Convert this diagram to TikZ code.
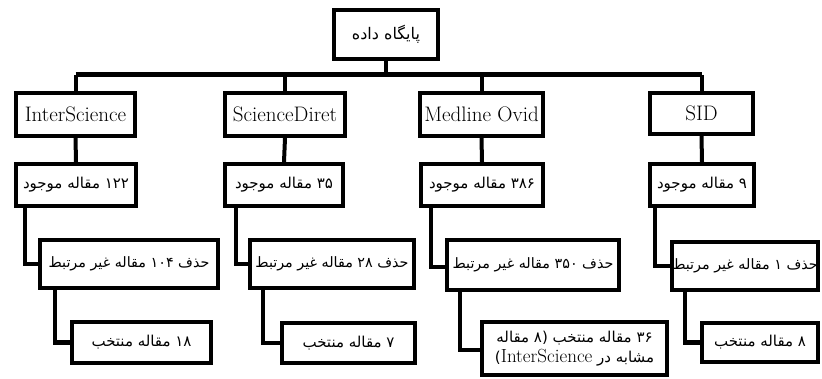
\documentclass[tikz,border=0pt]{standalone}
\usepackage{fontspec}
\TeXXeTstate=1
\newfontfamily\fa[Script=Arabic]{DejaVu Sans}
\newcommand{\fatxt}[1]{{\fa\fontsize{15}{17}\selectfont\beginR #1\endR}}
\newcommand{\fatxtb}[1]{{\fa\fontsize{14.3}{17}\selectfont\beginR #1\endR}}
\newcommand{\latxt}[1]{{\fontsize{21}{24}\selectfont #1}}
\tikzset{
  box/.style={draw=black, line width=4pt, inner sep=0pt, anchor=center, align=center},
  conn/.style={draw=black, line width=4pt},
  barline/.style={draw=black, line width=5pt}
}
\begin{document}
\begin{tikzpicture}[x=1pt, y=-1pt]
\fill[white] (0,0) rectangle (822,379);
\useasboundingbox (0,0) rectangle (822,379);
% root
\node[box, minimum width=104pt, minimum height=49pt] (root) at (386,34.5) {{\fa\fontsize{16}{18}\selectfont\beginR پایگاه داده\endR}};
% row 1
\node[box, minimum width=119pt, minimum height=43pt] (is1) at (75.5,114.5) {\latxt{InterScience}};
\node[box, minimum width=120pt, minimum height=43pt] (sd1) at (285,114.5) {\latxt{ScienceDiret}};
\node[box, minimum width=123pt, minimum height=43pt] (mo1) at (481.5,114.5) {\latxt{Medline Ovid}};
\node[box, minimum width=103pt, minimum height=41pt] (si1) at (701.5,113.5) {\latxt{SID}};
% row 2
\node[box, minimum width=120pt, minimum height=42pt] (is2) at (76,185) {\fatxt{۱۲۲ مقاله موجود}};
\node[box, minimum width=118pt, minimum height=42pt] (sd2) at (284,185) {\fatxt{۳۵ مقاله موجود}};
\node[box, minimum width=122pt, minimum height=42pt] (mo2) at (482,185) {\fatxt{۳۸۶ مقاله موجود}};
\node[box, minimum width=104pt, minimum height=42pt] (si2) at (702,185) {\fatxt{۹ مقاله موجود}};
% row 3
\node[box, minimum width=178pt, minimum height=48pt] (is3) at (129,264) {\fatxtb{حذف ۱۰۴ مقاله غیر مرتبط}};
\node[box, minimum width=164pt, minimum height=48pt] (sd3) at (332,264) {\fatxtb{حذف ۲۸ مقاله غیر مرتبط}};
\node[box, minimum width=172pt, minimum height=50pt] (mo3) at (533,265) {\fatxtb{حذف ۳۵۰ مقاله غیر مرتبط}};
\node[box, minimum width=146pt, minimum height=48pt] (si3) at (745,266) {\fatxtb{حذف ۱ مقاله غیر مرتبط}};
% row 4
\node[box, minimum width=139pt, minimum height=41pt] (is4) at (141.5,342.5) {\fatxt{۱۸ مقاله منتخب}};
\node[box, minimum width=133pt, minimum height=40pt] (sd4) at (348.5,343) {\fatxt{۷ مقاله منتخب}};
\node[box, minimum width=185pt, minimum height=53pt] (mo4) at (574.5,348.5)
  {\fatxt{۳۶ مقاله منتخب (۸ مقاله}\\[3pt]{\fa\fontsize{15}{17}\selectfont\beginR مشابه در \beginL{\fontsize{19}{20}\selectfont\rmfamily InterScience}\endL)\endR}};
\node[box, minimum width=116pt, minimum height=39pt] (si4) at (760,342.5) {\fatxt{۸ مقاله منتخب}};
% bar
\coordinate (bar) at (386,75);
\draw[conn] (root.south) -- (root.south |- bar);
\draw[barline] (is1.north |- bar) -- (si1.north |- bar);
\foreach \n in {is1,sd1,mo1,si1} {\draw[conn] (\n.north |- bar) -- (\n.north);}
% row1 -> row2
\draw[conn] (is1.south) -- (is2.north);
\draw[conn] (sd1.south) -- (sd2.north);
\draw[conn] (mo1.south) -- (mo2.north);
\draw[conn] (si1.south) -- (si2.north);
% row2 -> row3
\draw[conn] ([xshift=11pt]is2.south west) |- (is3.west);
\draw[conn] ([xshift=13pt]sd2.south west) |- (sd3.west);
\draw[conn] ([xshift=12pt]mo2.south west) |- ([yshift=-2pt]mo3.west);
\draw[conn] ([xshift=7pt]si2.south west) |- (si3.west);
% row3 -> row4
\draw[conn] ([xshift=17pt]is3.south west) |- (is4.west);
\draw[conn] ([xshift=15pt]sd3.south west) |- (sd4.west);
\draw[conn] ([xshift=15pt]mo3.south west) |- ([yshift=-1.5pt]mo4.west);
\draw[conn] ([xshift=15pt]si3.south west) |- (si4.west);
\end{tikzpicture}
\end{document}
